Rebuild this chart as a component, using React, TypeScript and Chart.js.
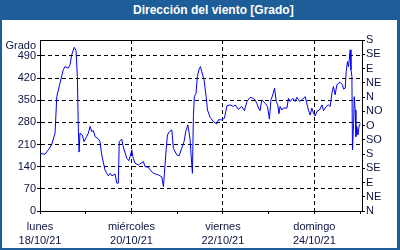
import React, { useEffect, useRef } from "react";
import { Chart, registerables } from "chart.js";

Chart.register(...registerables);

// hours since lunes 18/10/21 00:00
const hours = [
  0, 2.6, 4.4, 6.1, 7.9, 8.8, 10.5, 12.2, 13.1, 14.9, 15.8, 16.6, 18.0, 18.9, 19.6, 20.1, 20.5, 21.0, 22.2, 23.1,
  24.5, 25.4, 26.3, 27.2, 28.0, 28.9, 30.6, 31.5, 32.4, 34.1, 35.0, 35.9, 36.8, 37.7, 39.4, 40.3, 41.1, 41.6, 42.9, 43.7,
  45.5, 46.6, 47.3, 48.2, 48.7, 49.9, 51.6, 52.5, 54.3, 55.1, 56.9, 57.8, 59.5, 62.1, 63.9, 64.8, 65.3, 66.2, 66.9, 67.9,
  69.2, 70.0, 71.8, 73.0, 74.4, 75.6, 76.5, 77.6, 77.9, 78.8, 79.3, 80.0, 80.5, 81.0, 81.9, 82.6, 83.4, 84.2, 84.9, 86.1,
  87.2, 87.9, 89.3, 91.0, 92.8, 93.6, 95.4, 96.8, 98.1, 99.8, 101.5, 102.4, 104.1, 105.9, 107.3, 108.6, 110.3, 111.7, 112.9, 113.8,
  114.7, 115.5, 116.4, 118.2, 119.4, 120.4, 121.2, 122.2, 123.1, 124.0, 124.8, 125.4, 126.0, 126.9, 127.8, 129.6, 130.4, 131.3, 132.7, 133.9,
  134.8, 136.2, 137.4, 139.2, 140.1, 140.9, 141.8, 142.7, 143.5, 144.4, 145.3, 146.7, 148.0, 148.8, 150.2, 151.4, 152.3, 153.2, 154.0, 154.9,
  155.8, 156.7, 157.6, 158.8, 159.3, 160.2, 160.7, 161.4, 161.9, 162.3, 162.8, 163.2, 163.7, 164.0, 164.6, 164.9, 165.4, 165.8, 166.3, 166.9,
  167.5, 168.1,
];

// wind direction (degrees, unwrapped)
const degrees = [
  182, 179, 193, 209, 246, 361, 404, 446, 456, 451, 462, 493, 517, 507, 425, 265, 186, 246, 240, 219,
  235, 246, 267, 251, 254, 235, 228, 219, 177, 130, 119, 111, 119, 111, 117, 88, 88, 219, 227, 203,
  167, 159, 172, 193, 172, 151, 145, 149, 156, 140, 138, 130, 119, 114, 108, 77, 119, 193, 240, 251,
  256, 198, 177, 174, 198, 219, 251, 272, 261, 224, 177, 119, 298, 361, 372, 425, 446, 456, 440, 414,
  361, 319, 296, 282, 275, 288, 288, 293, 332, 335, 330, 335, 321, 330, 317, 346, 359, 356, 351, 340,
  325, 317, 351, 340, 330, 290, 351, 367, 388, 346, 335, 307, 330, 319, 325, 325, 356, 346, 356, 346,
  359, 346, 351, 361, 338, 319, 303, 325, 309, 300, 314, 319, 335, 317, 330, 335, 330, 372, 393, 367,
  398, 404, 406, 398, 385, 388, 440, 472, 456, 477, 509, 446, 425, 193, 277, 361, 319, 235, 267, 240,
  269, 277,
];

const labelHours = [0, 48, 96, 144];
const dayNames = ["lunes", "miércoles", "viernes", "domingo"];
const dateLabels = ["18/10/21", "20/10/21", "22/10/21", "24/10/21"];
const compassLabels = ["N", "NE", "E", "SE", "S", "SO", "O", "NO", "N", "NE", "E", "SE", "S"];

const TEXT = "#0c1440";
const FAMILY = "'Liberation Sans', Arial, sans-serif";
const FONT = { family: FAMILY, size: 11 };

export default function App() {
  const ref = useRef<HTMLCanvasElement | null>(null);

  useEffect(() => {
    document.body.style.margin = "0";
    const canvas = ref.current;
    if (!canvas) return;

    const framePlugin = {
      id: "frame",
      afterDraw(chart: any) {
        const { ctx, chartArea } = chart;
        ctx.save();
        ctx.strokeStyle = "#000";
        ctx.lineWidth = 1;
        ctx.beginPath();
        ctx.moveTo(Math.round(chartArea.left) + 0.5, Math.round(chartArea.top) + 0.5);
        ctx.lineTo(Math.round(chartArea.right) + 0.5, Math.round(chartArea.top) + 0.5);
        ctx.stroke();
        ctx.fillStyle = TEXT;
        ctx.font = `11px ${FAMILY}`;
        ctx.textAlign = "right";
        ctx.textBaseline = "middle";
        ctx.fillText("Grado", 34, 26);
        ctx.restore();
      },
    };

    const chart = new Chart(canvas, {
      type: "line",
      data: {
        datasets: [
          {
            data: hours.map((h, i) => ({ x: h, y: degrees[i] })),
            borderColor: "#0000f0",
            borderWidth: 1,
            pointRadius: 0,
            tension: 0,
            fill: false,
          },
        ],
      },
      options: {
        animation: false,
        responsive: false,
        devicePixelRatio: 1,
        layout: { padding: { top: 20, left: 0, right: 0, bottom: 0 } },
        plugins: { legend: { display: false }, tooltip: { enabled: false }, title: { display: false } },
        scales: {
          x: {
            type: "linear",
            min: 0,
            max: 169,
            afterFit: (s: any) => {
              s.height = 37;
            },
            ticks: {
              stepSize: 24,
              autoSkip: false,
              maxRotation: 0,
              includeBounds: false,
              color: TEXT,
              font: { family: FAMILY, size: 11, lineHeight: 1.36 },
              padding: 5,
              callback: (v: any) => {
                const i = labelHours.indexOf(Number(v));
                return i >= 0 ? [dayNames[i], dateLabels[i]] : "";
              },
            },
            grid: {
              color: (c: any) => (c.tick && c.tick.value % 48 === 0 ? "#000" : "rgba(0,0,0,0)"),
              tickColor: "#000",
              tickLength: 3,
              tickBorderDash: [],
              lineWidth: 1,
            },
            border: { display: true, color: "#000", width: 1, dash: [4, 3] },
          },
          y: {
            position: "left",
            min: 0,
            max: 540,
            afterFit: (s: any) => {
              s.width = 38;
            },
            ticks: {
              stepSize: 70,
              includeBounds: false,
              autoSkip: false,
              color: TEXT,
              font: FONT,
              padding: 1,
            },
            grid: {
              color: "#000",
              tickColor: "#000",
              tickLength: 3,
              tickBorderDash: [],
              lineWidth: 1,
            },
            border: { display: true, color: "#000", width: 1, dash: [4, 3] },
          },
          y2: {
            position: "right",
            min: 0,
            max: 540,
            afterFit: (s: any) => {
              s.width = 35;
            },
            ticks: {
              stepSize: 45,
              autoSkip: false,
              color: TEXT,
              font: FONT,
              padding: 1,
              callback: (v: any) => compassLabels[Math.round(Number(v) / 45)] ?? "",
            },
            grid: {
              drawOnChartArea: false,
              color: "#000",
              tickColor: "#000",
              tickLength: 3,
              lineWidth: 1,
            },
            border: { display: true, color: "#000", width: 1 },
          },
        },
      },
      plugins: [framePlugin],
    });

    return () => chart.destroy();
  }, []);

  return (
    <div
      style={{
        position: "relative",
        width: 400,
        height: 250,
        background: "#1d5e99",
        overflow: "hidden",
      }}
    >
      <div
        style={{
          position: "absolute",
          left: 133,
          top: 0,
          height: 20,
          lineHeight: "20px",
          color: "#fff",
          fontFamily: FAMILY,
          fontWeight: "bold",
          fontSize: 12,
          whiteSpace: "nowrap",
        }}
      >
        Dirección del viento [Grado]
      </div>
      <div
        style={{
          position: "absolute",
          left: 2,
          top: 20,
          width: 395,
          height: 228,
          background: "#fff",
        }}
      >
        <canvas ref={ref} width={395} height={228} style={{ display: "block", width: 395, height: 228 }} />
      </div>
    </div>
  );
}
